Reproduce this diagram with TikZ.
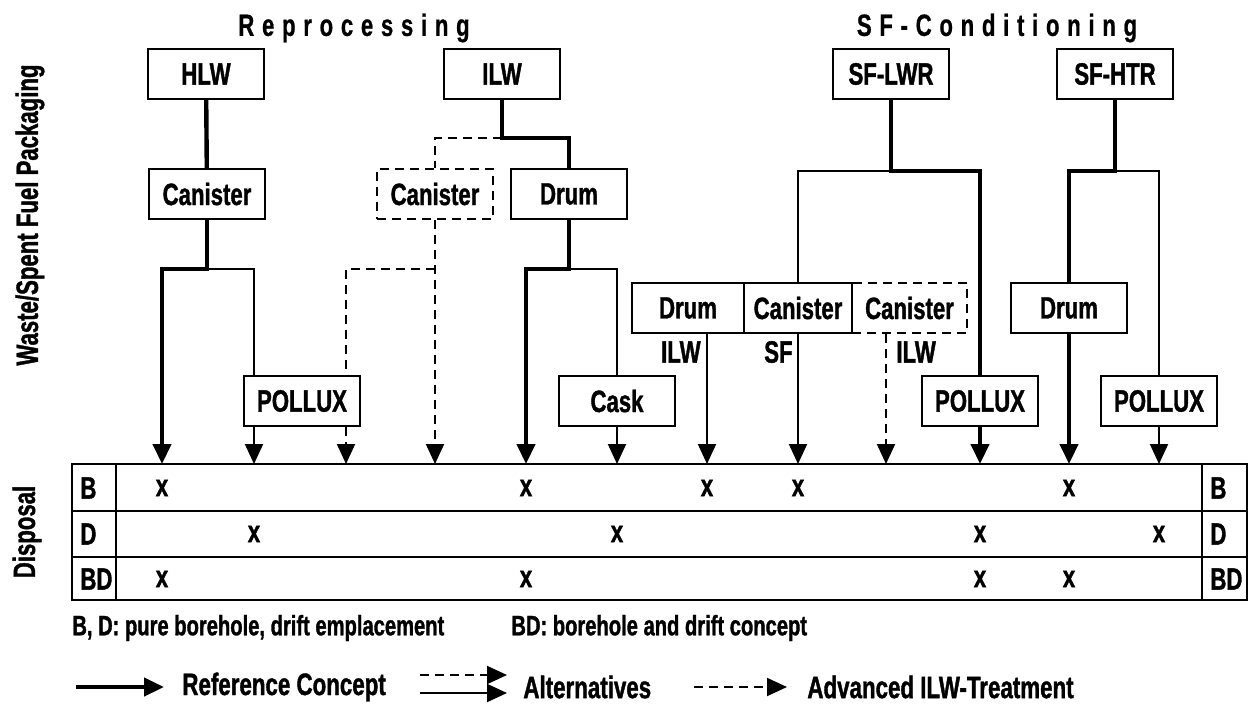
\documentclass[tikz,border=0pt]{standalone}
\usepackage{fontspec}
\setmainfont{Liberation Sans}[FakeStretch=0.72, BoldFeatures={FakeBold=1.2}]
\newfontfamily\spacedfont{Liberation Sans}[FakeStretch=0.72, LetterSpace=25, BoldFeatures={FakeBold=0.6}]
\usetikzlibrary{arrows.meta}

\begin{document}
\begin{tikzpicture}[x=0.5pt, y=-0.5pt, >={Triangle[width=9pt,length=10pt]},
  font=\fontsize{15.4}{18}\selectfont\bfseries,
  pk/.style={draw, line width=1pt, minimum width=58pt, minimum height=25pt, inner sep=0pt},
  pkd/.style={pk, dash pattern=on 4.5pt off 3pt},
  refl/.style={line width=2.2pt},
  altl/.style={line width=1pt},
  advl/.style={line width=1pt, dash pattern=on 4.5pt off 3pt},
  tag/.style={inner sep=0pt},
  lgd/.style={inner sep=0pt, anchor=west, font=\fontsize{14}{16}\selectfont\bfseries},
  lgn/.style={inner sep=0pt, anchor=west, font=\fontsize{15.5}{18}\selectfont\bfseries}]

  \useasboundingbox (0,0) rectangle (1253,703);

  \node[tag] (tRep) at (354,28) {\spacedfont\bfseries Reprocessing};
  \node[tag] (tSF)  at (997,28) {\spacedfont\bfseries SF-Conditioning};
  \node[tag, rotate=90] (tPack) at (30,215) {Waste/Spent Fuel Packaging};
  \node[tag, rotate=90] (tDisp) at (27,532) {Disposal};

  \node[pk] (hlw)  at (206,74)  {HLW};
  \node[pk] (ilw)  at (502,74)  {ILW};
  \node[pk] (lwr)  at (891,74)  {SF-LWR};
  \node[pk] (htr)  at (1115,74) {SF-HTR};
  \node[pk]  (canA) at (207,194) {Canister};
  \node[pkd] (canD) at (435,194) {Canister};
  \node[pk]  (drA)  at (569,194) {Drum};
  \node[pk, minimum width=56pt]   (drL)  at (688,308)   {Drum};
  \node[pk, minimum width=54pt]   (canL) at (798,308)   {Canister};
  \node[pkd, minimum width=57.5pt] (canM) at (909.5,308) {Canister};
  \node[pk]  (drH)  at (1069,308) {Drum};
  \node[pk]  (pxA)  at (302,401)  {POLLUX};
  \node[pk]  (cask) at (617,401)  {Cask};
  \node[pk]  (pxB)  at (980,401)  {POLLUX};
  \node[pk]  (pxC)  at (1159,401) {POLLUX};

  \node[tag, anchor=east] (lIlwA) at (701,352) {ILW};
  \node[tag, anchor=east] (lSf)   at (793,352) {SF};
  \node[tag, anchor=west] (lIlwB) at (896,352) {ILW};

  \foreach \i/\x in {1/162,2/254,3/346,4/435,5/526,6/617,7/707,8/798,9/886,10/980,11/1069,12/1159}
    \coordinate (c\i) at (\x,464);

  \draw[refl] (hlw) -- (canA);
  \draw[refl,->] (canA.south) -- ++(0,49) -| (c1);
  \draw[altl] (canA.south) ++(0,49) -| (pxA.north -| c2);
  \draw[altl,->] (pxA.south -| c2) -- (c2);

  \draw[refl] (ilw.south) -- ++(0,38) -| (drA.north);
  \draw[advl] (ilw.south) ++(0,38) -| (canD.north);
  \draw[advl,->] (canD.south) -- (c4);
  \draw[advl] (canD.south) ++(0,49) -| (pxA.north -| c3);
  \draw[advl,->] (pxA.south -| c3) -- (c3);
  \draw[refl,->] (drA.south) -- ++(0,49) -| (c5);
  \draw[altl] (drA.south) ++(0,49) -| (cask.north);
  \draw[altl,->] (cask.south) -- (c6);

  \draw[refl] (lwr.south) -- ++(0,71) -| (pxB.north);
  \draw[refl,->] (pxB.south) -- (c10);
  \draw[altl] (lwr.south) ++(0,71) -| (canL.north);
  \draw[altl,->] (canL.south) -- (c8);
  \draw[altl,->] (drL.south -| c7) -- (c7);
  \draw[advl,->] (canM.south -| c9) -- (c9);

  \draw[refl] (htr.south) -- ++(0,71) -| (drH.north);
  \draw[refl,->] (drH.south) -- (c11);
  \draw[altl] (htr.south) ++(0,71) -| (pxC.north);
  \draw[altl,->] (pxC.south) -- (c12);

  \draw[line width=1.1pt] (72,464) rectangle (1247,600);
  \draw[line width=1.1pt] (116,464) -- (116,600) (1202,464) -- (1202,600);
  \draw[line width=0.8pt] (72,511) -- (1247,511) (72,557) -- (1247,557);
  \coordinate (rB) at (0,488);
  \coordinate (rD) at (0,534);
  \coordinate (rBD) at (0,579);
  \foreach \r in {B,D,BD} {
    \node[tag, anchor=west] (l\r) at (80,0 |- r\r) {\r};
    \node[tag, anchor=west] (q\r) at (1210,0 |- r\r) {\r};
  }
  \foreach \c/\r in {1/B,5/B,7/B,8/B,11/B,2/D,6/D,10/D,12/D,1/BD,5/BD,10/BD,11/BD}
    \node[tag] (x\c\r) at (c\c |- r\r) {x};

  \node[lgd] (kBD)  at (72,628)  {B, D: pure borehole, drift emplacement};
  \node[lgd] (kBD2) at (511,628) {BD: borehole and drift concept};

  \coordinate (rs) at (76,687);  \coordinate (re) at (164,687);
  \coordinate (as) at (420,675); \coordinate (ae) at (507,675);
  \coordinate (bs) at (420,693); \coordinate (be) at (507,693);
  \coordinate (vs) at (694,687); \coordinate (ve) at (787,687);
  \draw[refl,->] (rs) -- (re);
  \draw[advl,->] (as) -- (ae);
  \draw[altl,->] (bs) -- (be);
  \draw[advl,->] (vs) -- (ve);
  \node[lgn] (kRef) at (182,687) {Reference Concept};
  \node[lgn] (kAlt) at (523,687) {Alternatives};
  \node[lgn] (kAdv) at (807,687) {Advanced ILW-Treatment};

\end{tikzpicture}
\end{document}
